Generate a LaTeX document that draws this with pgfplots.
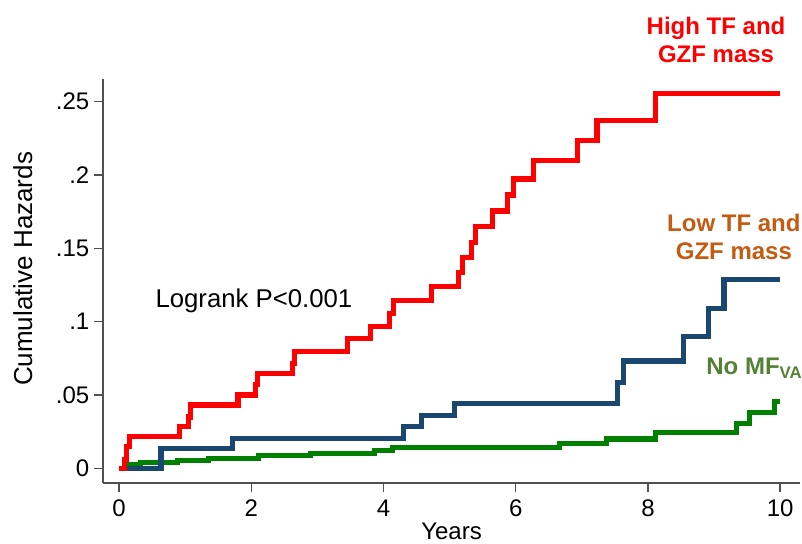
\documentclass[border=0pt]{standalone}
\usepackage{pgfplots}
\pgfplotsset{compat=1.18}
\usepackage{fontspec}
\setmainfont{Liberation Sans}
\definecolor{cred}{HTML}{FF0000}
\definecolor{cblue}{HTML}{1A476F}
\definecolor{cgreen}{HTML}{008000}
\definecolor{lorange}{HTML}{C55A11}
\definecolor{lgreen}{HTML}{538135}
\definecolor{axgray}{HTML}{505050}
\begin{document}
\begin{tikzpicture}
\path[use as bounding box] (-77.25pt,-45pt) rectangle (524.25pt,362.25pt);
\begin{axis}[
  at={(0pt,0pt)}, anchor=south west,
  scale only axis, width=522.75pt, height=303pt,
  xmin=-0.242, xmax=10.30, ymin=-0.0100, ymax=0.2655,
  axis x line*=bottom, axis y line*=left,
  axis line style={axgray, line width=1.3pt},
  every tick/.style={axgray, line width=1.1pt},
  tick align=outside, major tick length=6.75pt,
  xtick={0,2,4,6,8,10},
  ytick={0,0.05,0.1,0.15,0.2,0.25},
  yticklabels={0,.05,.1,.15,.2,.25},
  /pgf/number format/assume math mode=true,
  tick label style={font=\fontsize{18}{20}\selectfont},
  xticklabel style={yshift=-2.5pt},
  xlabel={Years}, ylabel={Cumulative Hazards},
  xlabel style={font=\fontsize{18}{20}\selectfont, at={(axis description cs:0.5,-0.119)}, anchor=center},
  ylabel style={font=\fontsize{19.5}{22}\selectfont, at={(axis description cs:-0.115,0.53)}, anchor=center},
  clip=false,
]
\addplot[const plot, color=cgreen, line width=3.8pt, line join=miter] coordinates {
 (0,0) (0.09,0.0025) (0.33,0.004) (0.88,0.0055) (1.36,0.007) (2.11,0.0085) (2.90,0.0102)
 (3.86,0.012) (4.14,0.0145) (6.66,0.0170) (7.38,0.020) (8.12,0.0245) (9.34,0.0307)
 (9.53,0.0378) (9.92,0.0454) (10,0.0454)};
\addplot[const plot, color=cblue, line width=3.8pt, line join=miter] coordinates {
 (0,0) (0.635,0.0136) (1.71,0.0205) (4.30,0.0284) (4.57,0.0363) (5.08,0.0443)
 (7.54,0.0584) (7.63,0.0732) (8.54,0.0902) (8.92,0.109) (9.15,0.129) (10,0.129)};
\addplot[const plot, color=cred, line width=3.8pt, line join=miter] coordinates {
 (0,0) (0.08,0.006) (0.12,0.015) (0.16,0.0216) (0.91,0.0284) (1.05,0.035) (1.08,0.0432)
 (1.80,0.050) (2.06,0.057) (2.10,0.0648) (2.62,0.0716) (2.66,0.0795) (3.46,0.0887)
 (3.81,0.0966) (4.09,0.1057) (4.155,0.1143) (4.73,0.1239) (5.14,0.1334) (5.20,0.1436)
 (5.33,0.1539) (5.39,0.1648) (5.65,0.1755) (5.87,0.1864) (5.96,0.1973) (6.27,0.2102)
 (6.94,0.2234) (7.23,0.2375) (8.12,0.2557) (10,0.2557)};
\node[font=\fontsize{19.3}{22}\selectfont] at (axis cs:2.04,0.114) {Logrank P<0.001};
\node[font=\bfseries\fontsize{18}{20.8}\selectfont, text=cred, align=center] at (axis cs:9.03,0.292) {High TF and\\GZF mass};
\node[font=\bfseries\fontsize{18}{20.8}\selectfont, text=lorange, align=center] at (axis cs:9.30,0.158) {Low TF and\\GZF mass};
\node[font=\bfseries\fontsize{18}{20.8}\selectfont, text=lgreen, anchor=west, inner sep=0pt] at (axis cs:8.88,0.0684) {No MF\textsubscript{VA}};
\end{axis}
\end{tikzpicture}
\end{document}
